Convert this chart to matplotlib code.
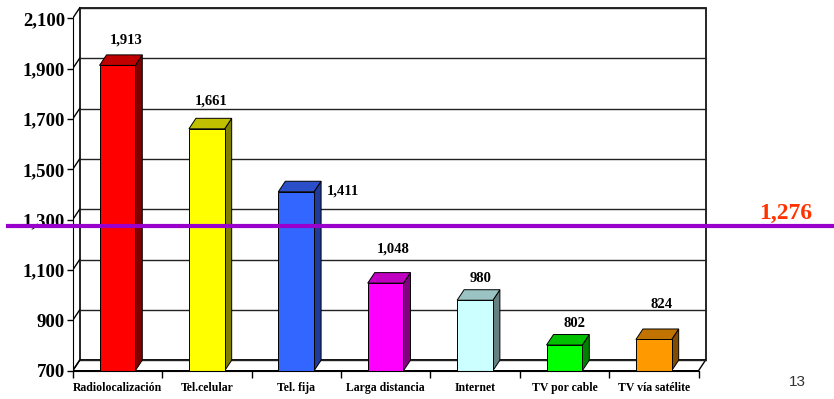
import matplotlib.pyplot as plt
import matplotlib.transforms as mtransforms
from matplotlib.patches import Polygon, Rectangle
from matplotlib.ticker import FuncFormatter, FixedLocator
import numpy as np

categories = ['Radiolocalización', 'Tel.celular', 'Tel. fija', 'Larga distancia',
              'Internet', 'TV por cable', 'TV vía satélite']
values = [1913, 1661, 1411, 1048, 980, 802, 824]
average = 1276

front_colors = ['#FF0000', '#FFFF00', '#3366FF', '#FF00FF', '#CCFFFF', '#00FF00', '#FF9900']
top_colors = ['#C00000', '#C0C000', '#2A4FC8', '#C000C0', '#9CC3C3', '#00C000', '#C07300']
side_colors = ['#800000', '#808000', '#1F3A99', '#800080', '#668080', '#008000', '#804C00']

# label offsets from the front-top centre of each bar, in pixels
label_offsets = [(8.5, 25), (4.5, 28), (47, 1), (8, 34), (6, 22), (10, 22), (7.5, 35)]

yticks = np.arange(700, 2101, 200)

serif = 'Liberation Serif'
W, H = 834, 399
fig = plt.figure(figsize=(W / 100, H / 100), dpi=100)

# pixel geometry of the plot box
x0_px, y0_px = 72.7, 370.7
px_per_cat = 89.4
px_per_val = 0.2517
xmax, ymax = 7.1, 2153
ax = fig.add_axes([x0_px / W, (H - y0_px) / H,
                   xmax * px_per_cat / W, (ymax - 700) * px_per_val / H])
ax.set_xlim(0, xmax)
ax.set_ylim(700, ymax)

# depth of the 3d box, in data units
dx = 7 / px_per_cat
dy = 10.5 / px_per_val
n = len(categories)
lc = '#222222'

# back wall, floor and side diagonals
ax.add_patch(Rectangle((dx, 700 + dy), n, 1400, facecolor='white', edgecolor='black', lw=1.2, zorder=1))
ax.add_patch(Polygon([(0, 700), (n, 700), (n + dx, 700 + dy), (dx, 700 + dy)],
                     closed=True, facecolor='white', edgecolor='black', lw=1, zorder=1))
for v in yticks:
    ax.plot([dx, n + dx], [v + dy, v + dy], color=lc, lw=1, zorder=1.5)
    ax.plot([0, dx], [v, v + dy], color='black', lw=1, zorder=1.5)

w = 0.4
for i, v in enumerate(values):
    c = i + 0.5
    l, r = c - w / 2, c + w / 2
    ax.add_patch(Polygon([(r, 700), (r + dx, 700 + dy), (r + dx, v + dy), (r, v)], closed=True,
                         facecolor=side_colors[i], edgecolor='black', lw=0.7, zorder=3))
    ax.add_patch(Polygon([(l, v), (r, v), (r + dx, v + dy), (l + dx, v + dy)], closed=True,
                         facecolor=top_colors[i], edgecolor='black', lw=0.7, zorder=3))
    ax.add_patch(Rectangle((l, 700), w, v - 700, facecolor=front_colors[i],
                           edgecolor='black', lw=0.7, zorder=3))
    ox, oy = label_offsets[i]
    ax.annotate(f'{v:,}', (c, v), xytext=(ox, oy), textcoords='offset pixels',
                ha='center', va='center', fontsize=10.5, fontweight='bold',
                family=serif, zorder=5)

# average line across the whole slide
blend = mtransforms.blended_transform_factory(ax.transAxes, ax.transData)
x_left = (8 - x0_px) / (xmax * px_per_cat)
x_right = (W - x0_px) / (xmax * px_per_cat)
ax.plot([x_left, x_right], [average, average], color='#9900CC', lw=3,
        transform=blend, clip_on=False, zorder=6)
ax.annotate(f'{average:,}', ((785.5 - x0_px) / (xmax * px_per_cat), average),
            xycoords=blend, xytext=(0, 12), textcoords='offset pixels',
            ha='center', va='center', fontsize=17, fontweight='bold',
            family=serif, color='#FF3300', annotation_clip=False)

for s in ['top', 'right']:
    ax.spines[s].set_visible(False)
ax.spines['left'].set_bounds(700, 2100)
ax.spines['bottom'].set_bounds(0, n)
ax.spines['left'].set_zorder(4)
ax.spines['bottom'].set_zorder(4)

ax.set_yticks(yticks)
ax.yaxis.set_major_formatter(FuncFormatter(lambda v, p: f'{int(v):,}'))
ax.tick_params(axis='y', direction='out', length=4, width=1, pad=1.5)
for t in ax.get_yticklabels():
    t.set_fontfamily(serif)
    t.set_fontweight('bold')
    t.set_fontsize(13.5)

ax.xaxis.set_major_locator(FixedLocator(np.arange(0, n + 1)))
ax.xaxis.set_minor_locator(FixedLocator(np.arange(n) + 0.5))
ax.set_xticklabels([], minor=False)
ax.set_xticklabels(categories, minor=True, fontfamily=serif, fontweight='bold', fontsize=8.5)
ax.tick_params(axis='x', which='major', direction='out', length=5, width=1)
ax.tick_params(axis='x', which='minor', length=0, pad=8)

fig.text(797 / W, 1 - 382 / H, '13', ha='center', va='center', fontsize=11,
         color='#333333', family='Liberation Sans')

fig.savefig('out.png', dpi=100)
